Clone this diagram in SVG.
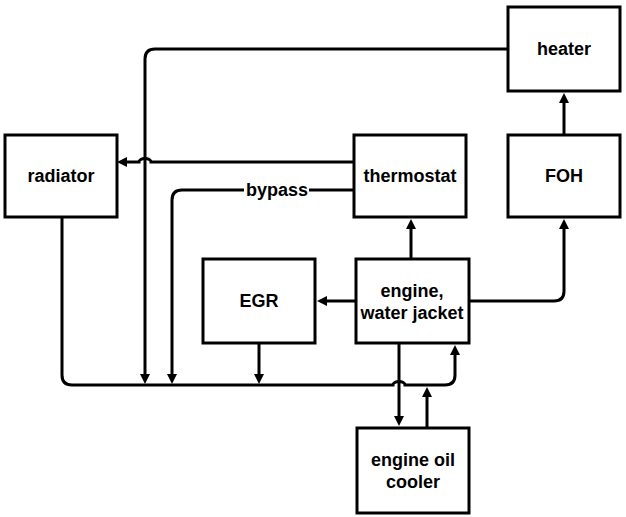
<svg xmlns="http://www.w3.org/2000/svg" width="626" height="517" viewBox="0 0 626 517">
<style>
.box{fill:#fff;stroke:#000;stroke-width:3}
.ln{fill:none;stroke:#000;stroke-width:3}
.ar{marker-end:url(#ah)}
text{font-family:"Liberation Sans",Arial,sans-serif;font-weight:bold;font-size:18px;text-anchor:middle;fill:#000}
</style>
<defs>
<marker id="ah" viewBox="0 0 10 10" refX="5" refY="5" markerWidth="10" markerHeight="10" markerUnits="userSpaceOnUse" orient="auto">
<path d="M0,0 L10,5 L0,10 z" fill="#000"/>
</marker>
</defs>
<rect width="626" height="517" fill="#fff"/>
<g id="connectors">
<path class="ln ar" d="M508,49 H155 Q145,49 145,59 V379"/>
<path class="ln ar" d="M354,162 H151 A6,3.5 0 0 0 139,162 H122"/>
<path class="ln" d="M354,190 H309"/>
<path class="ln ar" d="M244,190 H182 Q172,190 172,200 V379"/>
<path class="ln ar" d="M62,217 V375 Q62,385 72,385 H393 A6,3.5 0 0 1 405,385 H445 Q455,385 455,375 V350"/>
<path class="ln ar" d="M259,343 V379"/>
<path class="ln ar" d="M356,301 H322"/>
<path class="ln ar" d="M411,259 V224"/>
<path class="ln ar" d="M469,301 H554 Q564,301 564,291 V224"/>
<path class="ln ar" d="M564,135 V98"/>
<path class="ln ar" d="M399,343 V421"/>
<path class="ln ar" d="M427,428 V392"/>
</g>
<g id="heater"><rect class="box" x="508" y="7" width="112" height="84"/><text x="564" y="55">heater</text></g>
<g id="radiator"><rect class="box" x="5" y="135" width="112" height="82"/><text x="61" y="182">radiator</text></g>
<g id="thermostat"><rect class="box" x="354" y="135" width="112" height="82"/><text x="410" y="182">thermostat</text></g>
<g id="foh"><rect class="box" x="508" y="135" width="112" height="82"/><text x="564" y="182">FOH</text></g>
<g id="egr"><rect class="box" x="203" y="259" width="112" height="84"/><text x="259" y="307">EGR</text></g>
<g id="engine"><rect class="box" x="356" y="259" width="113" height="84"/><text x="412" y="297">engine,</text><text x="412" y="319">water jacket</text></g>
<g id="oilcooler"><rect class="box" x="357" y="428" width="112" height="85"/><text x="413" y="466">engine oil</text><text x="413" y="488">cooler</text></g>
<g id="bypass-label"><text x="277" y="196">bypass</text></g>
</svg>
